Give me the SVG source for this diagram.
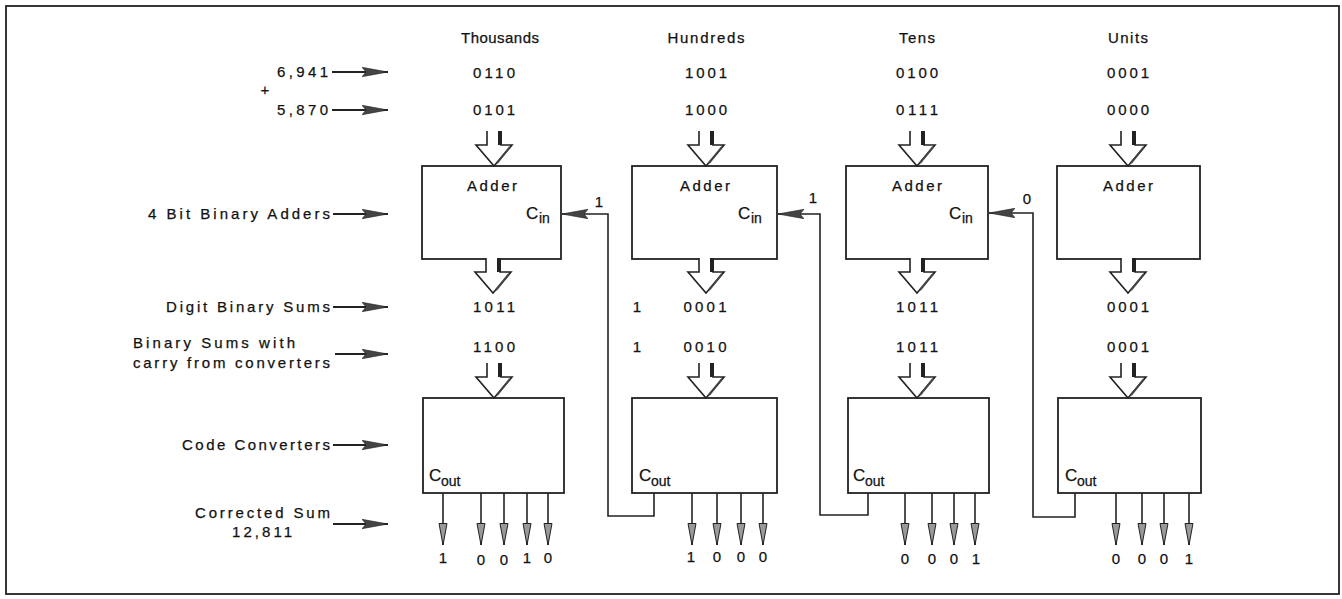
<svg xmlns="http://www.w3.org/2000/svg" xmlns:xlink="http://www.w3.org/1999/xlink" width="1342" height="599" viewBox="0 0 1342 599">
<style>
.t{font-family:"Liberation Sans",Arial,sans-serif;font-size:15px;fill:#111;stroke:#111;stroke-width:0.25}
.c{text-anchor:middle}
.e{text-anchor:end}
.box{fill:#fff;stroke:#222;stroke-width:1.8}
.wire{fill:none;stroke:#222;stroke-width:1.6}
.ptr{stroke:#222;stroke-width:2}
.sub{font-size:14px}
.big{font-size:17px}
</style>
<defs>
<marker id="pt" markerUnits="userSpaceOnUse" markerWidth="28" markerHeight="12" refX="26" refY="5" orient="auto">
<path d="M0,0.3 L26,5 L0,9.7 L4,5 Z" fill="#444" stroke="#222" stroke-width="0.6"/>
</marker>
<marker id="ot" markerUnits="userSpaceOnUse" markerWidth="24" markerHeight="10" refX="22" refY="4.5" orient="auto">
<path d="M0.5,0.5 L22,4.5 L0.5,8.5 Z" fill="#999" stroke="#222" stroke-width="1"/>
</marker>
<g id="bus">
<path d="M-7,-35 V-21 H-18 L0,0 L18,-21 H7 V-35" fill="#fff" stroke="#222" stroke-width="1.6" stroke-linejoin="miter"/>
<line x1="6" y1="-35" x2="6" y2="-21" stroke="#222" stroke-width="4"/>
<line x1="3" y1="-3" x2="16" y2="-19" stroke="#444" stroke-width="2"/>
</g>
</defs>
<rect x="6" y="6" width="1333" height="588" fill="#fff" stroke="#222" stroke-width="1.8"/>

<g id="left-labels">
<text class="t e" x="328" y="77" textLength="51">6,941</text>
<text class="t c" x="265" y="95">+</text>
<text class="t e" x="328" y="115" textLength="51">5,870</text>
<text class="t e" x="330" y="219" textLength="182">4 Bit Binary Adders</text>
<text class="t e" x="330" y="312" textLength="164">Digit Binary Sums</text>
<text class="t" x="133" y="348" textLength="162">Binary Sums with</text>
<text class="t" x="133" y="368" textLength="197">carry from converters</text>
<text class="t e" x="330" y="450" textLength="148">Code Converters</text>
<text class="t e" x="330" y="518" textLength="135">Corrected Sum</text>
<text class="t c" x="262" y="537" textLength="60">12,811</text>
</g>

<g id="headers">
<text class="t c" x="500" y="43" textLength="78">Thousands</text>
<text class="t c" x="706" y="43" textLength="77">Hundreds</text>
<text class="t c" x="917" y="43" textLength="36">Tens</text>
<text class="t c" x="1128" y="43" textLength="40">Units</text>
</g>

<g id="values">
<text class="t c" x="494" y="78" textLength="42">0110</text>
<text class="t c" x="706" y="78" textLength="42">1001</text>
<text class="t c" x="917" y="78" textLength="42">0100</text>
<text class="t c" x="1128" y="78" textLength="42">0001</text>
<text class="t c" x="494" y="115" textLength="42">0101</text>
<text class="t c" x="706" y="115" textLength="42">1000</text>
<text class="t c" x="917" y="115" textLength="42">0111</text>
<text class="t c" x="1128" y="115" textLength="42">0000</text>
<text class="t c" x="494" y="312" textLength="42">1011</text>
<text class="t c" x="637" y="312">1</text>
<text class="t c" x="705" y="312" textLength="43">0001</text>
<text class="t c" x="917" y="312" textLength="42">1011</text>
<text class="t c" x="1128" y="312" textLength="42">0001</text>
<text class="t c" x="494" y="352" textLength="42">1100</text>
<text class="t c" x="637" y="352">1</text>
<text class="t c" x="705" y="352" textLength="43">0010</text>
<text class="t c" x="917" y="352" textLength="42">1011</text>
<text class="t c" x="1128" y="352" textLength="42">0001</text>
</g>

<g id="adder-thousands">
<rect class="box" x="422" y="166" width="139" height="93"/>
<text class="t c" x="492" y="191" textLength="50">Adder</text>
<text class="t big" x="526" y="219">C</text><text class="t sub" x="539" y="223">in</text>
</g>
<g id="adder-hundreds">
<rect class="box" x="632" y="166" width="145" height="93"/>
<text class="t c" x="705" y="191" textLength="50">Adder</text>
<text class="t big" x="738" y="219">C</text><text class="t sub" x="751" y="223">in</text>
</g>
<g id="adder-tens">
<rect class="box" x="846" y="166" width="142" height="93"/>
<text class="t c" x="917" y="191" textLength="50">Adder</text>
<text class="t big" x="949" y="219">C</text><text class="t sub" x="962" y="223">in</text>
</g>
<g id="adder-units">
<rect class="box" x="1057" y="166" width="143" height="93"/>
<text class="t c" x="1128" y="191" textLength="50">Adder</text>
</g>

<g id="converter-thousands">
<rect class="box" x="423" y="398" width="141" height="95"/>
<text class="t big" x="429" y="481">C</text><text class="t sub" x="441" y="486">out</text>
</g>
<g id="converter-hundreds">
<rect class="box" x="632" y="398" width="145" height="95"/>
<text class="t big" x="639" y="481">C</text><text class="t sub" x="651" y="486">out</text>
</g>
<g id="converter-tens">
<rect class="box" x="848" y="398" width="141" height="95"/>
<text class="t big" x="853" y="481">C</text><text class="t sub" x="865" y="486">out</text>
</g>
<g id="converter-units">
<rect class="box" x="1058" y="398" width="143" height="95"/>
<text class="t big" x="1065" y="481">C</text><text class="t sub" x="1077" y="486">out</text>
</g>

<g id="connectors">
<line class="ptr" x1="332" y1="72" x2="388" y2="72" marker-end="url(#pt)"/>
<line class="ptr" x1="332" y1="110" x2="388" y2="110" marker-end="url(#pt)"/>
<line class="ptr" x1="333" y1="214" x2="388" y2="214" marker-end="url(#pt)"/>
<line class="ptr" x1="333" y1="307" x2="388" y2="307" marker-end="url(#pt)"/>
<line class="ptr" x1="335" y1="354" x2="388" y2="354" marker-end="url(#pt)"/>
<line class="ptr" x1="333" y1="445" x2="388" y2="445" marker-end="url(#pt)"/>
<line class="ptr" x1="333" y1="524" x2="388" y2="524" marker-end="url(#pt)"/>

<use xlink:href="#bus" href="#bus" x="494" y="166"/>
<use xlink:href="#bus" href="#bus" x="706" y="166"/>
<use xlink:href="#bus" href="#bus" x="917" y="166"/>
<use xlink:href="#bus" href="#bus" x="1128" y="166"/>
<use xlink:href="#bus" href="#bus" x="493" y="293"/>
<use xlink:href="#bus" href="#bus" x="706" y="293"/>
<use xlink:href="#bus" href="#bus" x="917" y="293"/>
<use xlink:href="#bus" href="#bus" x="1128" y="293"/>
<use xlink:href="#bus" href="#bus" x="494" y="398"/>
<use xlink:href="#bus" href="#bus" x="706" y="398"/>
<use xlink:href="#bus" href="#bus" x="917" y="398"/>
<use xlink:href="#bus" href="#bus" x="1128" y="398"/>

<polyline class="wire" points="654,493 654,516 608,516 608,214 562,214" marker-end="url(#pt)"/>
<polyline class="wire" points="868,493 868,515 820,515 820,214 778,214" marker-end="url(#pt)"/>
<polyline class="wire" points="1075,493 1075,517 1033,517 1033,213 989,213" marker-end="url(#pt)"/>

<line class="wire" x1="443" y1="493" x2="443" y2="545" marker-end="url(#ot)"/>
<line class="wire" x1="481" y1="493" x2="481" y2="545" marker-end="url(#ot)"/>
<line class="wire" x1="504" y1="493" x2="504" y2="545" marker-end="url(#ot)"/>
<line class="wire" x1="527" y1="493" x2="527" y2="545" marker-end="url(#ot)"/>
<line class="wire" x1="548" y1="493" x2="548" y2="545" marker-end="url(#ot)"/>
<line class="wire" x1="692" y1="493" x2="692" y2="545" marker-end="url(#ot)"/>
<line class="wire" x1="717" y1="493" x2="717" y2="545" marker-end="url(#ot)"/>
<line class="wire" x1="741" y1="493" x2="741" y2="545" marker-end="url(#ot)"/>
<line class="wire" x1="763" y1="493" x2="763" y2="545" marker-end="url(#ot)"/>
<line class="wire" x1="905" y1="493" x2="905" y2="545" marker-end="url(#ot)"/>
<line class="wire" x1="932" y1="493" x2="932" y2="545" marker-end="url(#ot)"/>
<line class="wire" x1="954" y1="493" x2="954" y2="545" marker-end="url(#ot)"/>
<line class="wire" x1="975" y1="493" x2="975" y2="545" marker-end="url(#ot)"/>
<line class="wire" x1="1116" y1="493" x2="1116" y2="545" marker-end="url(#ot)"/>
<line class="wire" x1="1142" y1="493" x2="1142" y2="545" marker-end="url(#ot)"/>
<line class="wire" x1="1164" y1="493" x2="1164" y2="545" marker-end="url(#ot)"/>
<line class="wire" x1="1189" y1="493" x2="1189" y2="545" marker-end="url(#ot)"/>
</g>

<g id="carry-labels">
<text class="t c" x="599" y="207">1</text>
<text class="t c" x="813" y="203">1</text>
<text class="t c" x="1027" y="204">0</text>
</g>

<g id="output-digits">
<text class="t c" x="443" y="563">1</text>
<text class="t c" x="481" y="565">0</text>
<text class="t c" x="504" y="565">0</text>
<text class="t c" x="527" y="563">1</text>
<text class="t c" x="548" y="563">0</text>
<text class="t c" x="691" y="562">1</text>
<text class="t c" x="717" y="562">0</text>
<text class="t c" x="741" y="562">0</text>
<text class="t c" x="763" y="562">0</text>
<text class="t c" x="905" y="564">0</text>
<text class="t c" x="932" y="564">0</text>
<text class="t c" x="954" y="564">0</text>
<text class="t c" x="976" y="564">1</text>
<text class="t c" x="1116" y="564">0</text>
<text class="t c" x="1142" y="564">0</text>
<text class="t c" x="1164" y="564">0</text>
<text class="t c" x="1189" y="564">1</text>
</g>
</svg>
